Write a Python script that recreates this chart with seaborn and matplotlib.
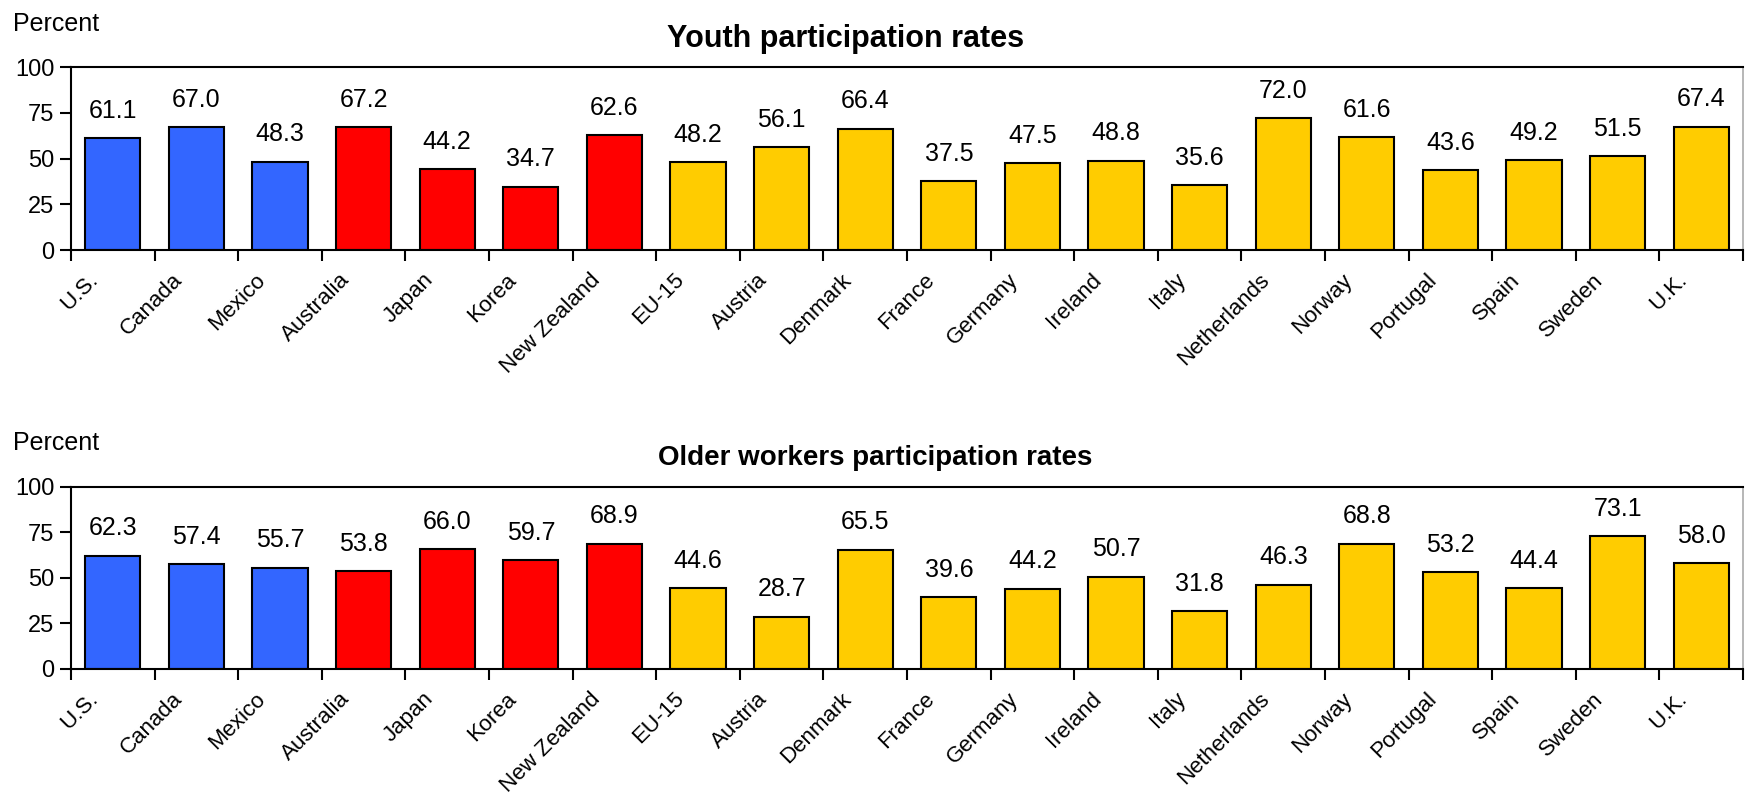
import matplotlib
matplotlib.use("Agg")
import matplotlib.pyplot as plt
import matplotlib.transforms as mtransforms
import seaborn as sns
import pandas as pd

countries = ["U.S.", "Canada", "Mexico", "Australia", "Japan", "Korea", "New Zealand",
             "EU-15", "Austria", "Denmark", "France", "Germany", "Ireland", "Italy",
             "Netherlands", "Norway", "Portugal", "Spain", "Sweden", "U.K."]
groups = ["Americas"] * 3 + ["Asia-Pacific"] * 4 + ["Europe"] * 13
youth = [61.1, 67.0, 48.3, 67.2, 44.2, 34.7, 62.6, 48.2, 56.1, 66.4,
         37.5, 47.5, 48.8, 35.6, 72.0, 61.6, 43.6, 49.2, 51.5, 67.4]
older = [62.3, 57.4, 55.7, 53.8, 66.0, 59.7, 68.9, 44.6, 28.7, 65.5,
         39.6, 44.2, 50.7, 31.8, 46.3, 68.8, 53.2, 44.4, 73.1, 58.0]
yticks = [0, 25, 50, 75, 100]
palette = {"Americas": "#3366FF", "Asia-Pacific": "#FF0000", "Europe": "#FFCC00"}

sns.set_style("white")
plt.rcParams["font.family"] = ["Liberation Sans", "DejaVu Sans"]
plt.rcParams["text.color"] = "black"
plt.rcParams["xtick.color"] = "black"
plt.rcParams["ytick.color"] = "black"

fig = plt.figure(figsize=(17.45, 7.98), dpi=100)
ax1 = fig.add_axes([0.0407, 0.6867, 0.9582, 0.2293])
ax2 = fig.add_axes([0.0407, 0.1617, 0.9582, 0.2281])


def draw(ax, vals):
    df = pd.DataFrame({"country": countries, "value": vals, "group": groups})
    sns.barplot(data=df, x="country", y="value", hue="group", palette=palette,
                dodge=False, legend=False, width=0.66, edgecolor="black",
                linewidth=1.5, saturation=1, ax=ax)
    for c in ax.containers:
        ax.bar_label(c, fmt="%.1f", padding=11, fontsize=18, color="black")
    ax.set_xlim(-0.5, len(countries) - 0.5)
    ax.set_ylim(0, 100)
    ax.set_yticks(yticks)
    ax.set_xlabel("")
    ax.set_ylabel("")
    ax.tick_params(axis="y", labelsize=17, length=8, width=1.5, direction="out", left=True, pad=4)
    ax.tick_params(axis="x", which="major", length=0, labelsize=16, pad=14)
    ax.set_xticks([i - 0.5 for i in range(len(countries) + 1)], minor=True)
    ax.tick_params(axis="x", which="minor", length=8, width=1.5, direction="out", bottom=True)
    ax.set_xticklabels(countries, rotation=45, ha="right")
    off = mtransforms.ScaledTranslation(-10 / 100, 0, fig.dpi_scale_trans)
    for lbl in ax.get_xticklabels():
        lbl.set_transform(lbl.get_transform() + off)
    for s in ["left", "bottom", "top"]:
        ax.spines[s].set_color("black")
        ax.spines[s].set_linewidth(1.5)
    ax.spines["right"].set_color("#aaaaaa")
    ax.spines["right"].set_linewidth(1.2)


draw(ax1, youth)
draw(ax2, older)

fig.text(0.0075, 0.961, "Percent", fontsize=18, va="baseline", ha="left")
fig.text(0.0075, 0.436, "Percent", fontsize=18, va="baseline", ha="left")
fig.text(0.4848, 0.951, "Youth participation rates", fontsize=22, fontweight="bold",
         ha="center", va="center")
fig.text(0.5014, 0.426, "Older workers participation rates", fontsize=20, fontweight="bold",
         ha="center", va="center")

fig.savefig("out.png", dpi=100)
